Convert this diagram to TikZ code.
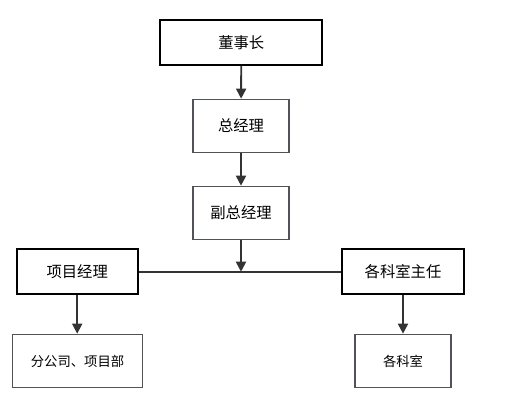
\documentclass[tikz,border=0pt]{standalone}
\usepackage{fontspec}
\newfontfamily\cjk{Noto Sans CJK SC}
\usetikzlibrary{arrows.meta,positioning,calc}
\definecolor{linegray}{RGB}{51,51,51}
\definecolor{boxgray}{RGB}{80,84,88}

\begin{document}
\begin{tikzpicture}[x=0.75pt,y=-0.75pt,>={Triangle[length=7.5pt,width=7.5pt]},
  lead/.style={draw=black,line width=1.5pt,fill=white,align=center,
               inner sep=0pt,font=\cjk\fontsize{11.5pt}{13pt}\selectfont},
  unit/.style={draw=boxgray,line width=1pt,fill=white,align=center,
               inner sep=0pt,font=\cjk\fontsize{11.5pt}{13pt}\selectfont},
  link/.style={draw=linegray,line width=1.4pt}]
\useasboundingbox (0,0) rectangle (507,401);
\node[lead,minimum width=121.5pt,minimum height=34pt] (chair) at (241.3,42.5) {董事长};
\node[unit,minimum width=72pt,minimum height=40pt] (gm) at (241,126) {总经理};
\node[unit,minimum width=72pt,minimum height=40pt] (vgm) at (241,213) {副总经理};
\node[lead,minimum width=91pt,minimum height=34pt] (pm) at (77.2,271.7) {项目经理};
\node[lead,minimum width=91pt,minimum height=34pt] (heads) at (403,271.7) {各科室主任};
\node[unit,minimum width=97.5pt,minimum height=40pt,
      font=\cjk\fontsize{10pt}{12pt}\selectfont] (branch) at (77.5,361) {分公司、项目部};
\node[unit,minimum width=72pt,minimum height=40pt,
      font=\cjk\fontsize{10pt}{12pt}\selectfont] (dept) at (403,361) {各科室};
\coordinate (mid) at (vgm.south |- pm.east);
\draw[link] (pm.east)--(heads.west);
\draw[link,->] (chair)--(gm);
\draw[link,->] (gm)--(vgm);
\draw[link,->] (vgm)--(mid);
\draw[link,->] (pm)--(pm.south |- branch.north);
\draw[link,->] (heads)--(dept);
\end{tikzpicture}
\end{document}
